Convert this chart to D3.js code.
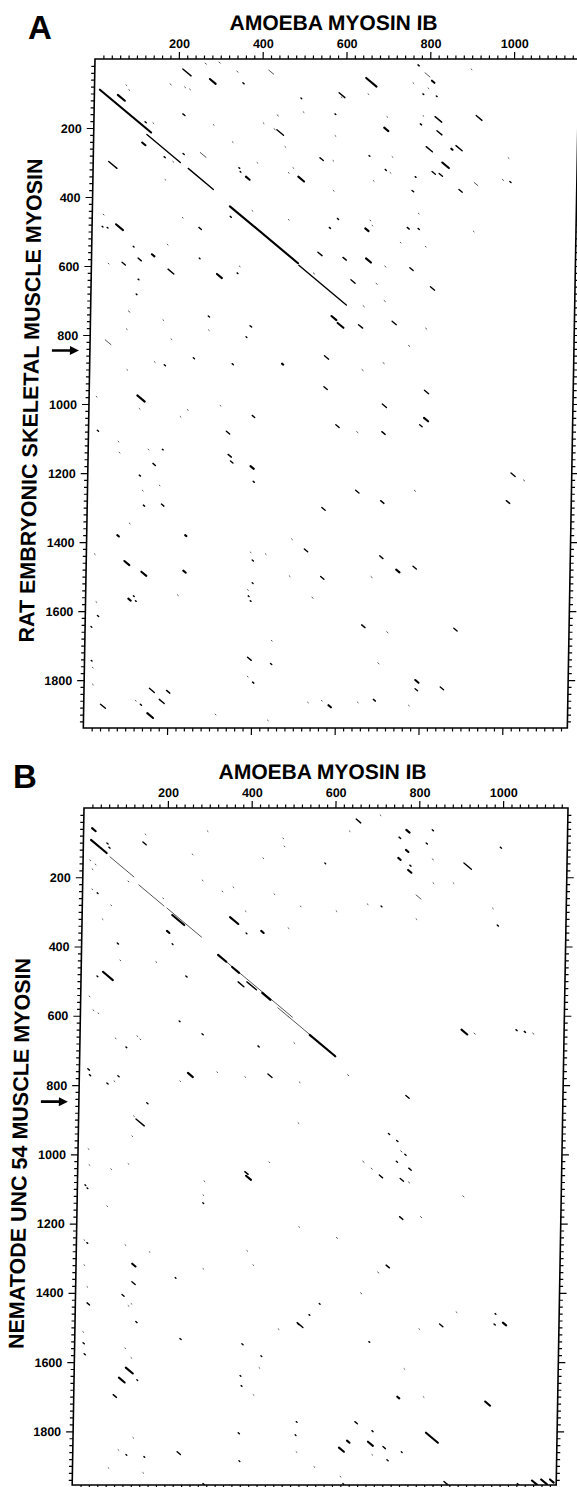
<!DOCTYPE html>
<html>
<head>
<meta charset="utf-8">
<script src="https://cdn.jsdelivr.net/npm/d3@7"></script>
<style>
  body { margin: 0; background: #fff; }
  svg text { font-family: "Liberation Sans", Arial, Helvetica, sans-serif; font-weight: bold; fill: #000; }
</style>
</head>
<body>
<div id="chart"></div>
<script>
// sequence lengths (residues) and tick labels
var amoebaLen = 1155;
var ratLen = 1939;
var nematodeLen = 1955;
var xTicks = [200, 400, 600, 800, 1000];
var yTicks = [200, 400, 600, 800, 1000, 1200, 1400, 1600, 1800];
var xTitle = "AMOEBA MYOSIN IB";
var yTitleA = "RAT EMBRYONIC SKELETAL MUSCLE MYOSIN";
var yTitleB = "NEMATODE UNC 54 MUSCLE MYOSIN";
var arrowA = 845;
var arrowB = 848;

// matches: [amoeba residue, myosin residue, run length, weight]
var segA = [
  [13,89,124,3],[127,219,81,2],[227,317,61,2],[328,427,165,3],[495,598,115,2],
  [210,29,20,2],[263,12,3,1],[296,9,3,1],[275,58,14,3],[339,35,3,1],[354,69,3,2],[415,32,12,1],
  [75,75,2,1],[82,89,2,1],[56,104,17,3],[180,72,3,1],[215,81,2,1],[227,87,2,1],
  [212,159,5,2],[122,182,3,2],[141,185,2,1],[116,242,8,3],[169,283,3,2],[214,274,3,2],[255,271,14,1],
  [190,297,2,1],[37,297,20,2],[172,349,2,1],[348,315,2,2],[351,326,2,2],[365,341,9,3],[391,300,2,1],
  [437,162,3,1],[430,202,3,1],[437,205,16,2],[404,185,2,1],[457,254,2,1],[466,329,2,1],[477,315,2,1],
  [331,240,2,1],[285,190,2,1],[381,439,2,1],[329,456,3,2],[255,488,6,2],[57,479,17,3],[24,485,2,2],
  [36,488,2,2],[215,459,2,1],[99,543,2,2],[26,450,2,1],[180,537,2,1],[468,465,2,1],
  [771,17,3,2],[788,40,12,1],[805,63,6,3],[898,29,2,1],[648,55,25,3],[760,69,2,1],[796,84,2,1],
  [784,101,2,2],[816,107,2,2],[584,98,14,2],[589,110,2,1],[493,113,2,2],[653,101,2,1],[499,153,2,1],
  [575,159,2,2],[699,167,2,1],[785,164,2,1],[814,167,16,2],[912,164,14,2],[779,188,3,2],[819,208,12,2],
  [693,199,10,3],[576,222,2,1],[794,254,15,2],[854,260,3,3],[865,251,15,2],[990,286,2,1],[541,286,8,2],
  [572,294,2,1],[658,280,2,2],[713,283,2,1],[833,300,16,3],[490,341,14,3],[697,320,3,2],[709,329,2,1],
  [809,326,8,2],[826,332,8,2],[769,341,2,2],[669,352,2,1],[910,358,9,1],[977,349,3,1],[995,355,3,2],
  [574,381,2,1],[762,381,4,2],[874,378,8,2],[585,462,3,2],[566,488,3,2],[652,491,8,3],[663,467,2,1],
  [668,482,2,1],[752,488,5,2],[778,491,3,2],[778,447,2,1],[910,499,2,1],[736,531,2,1],[796,543,2,1],
  [40,592,2,1],[73,589,8,2],[111,577,8,2],[144,566,6,3],[183,609,14,2],[257,577,2,2],[300,623,12,3],
  [353,600,2,1],[348,620,2,2],[112,638,2,2],[108,681,2,2],[90,730,4,1],[173,756,2,1],[281,745,3,2],
  [86,782,2,1],[282,785,2,1],[381,773,4,2],[372,805,2,2],[36,814,14,1],[193,811,2,1],[247,866,3,2],
  [89,900,2,1],[154,877,2,1],[178,886,3,2],[340,883,3,2],[459,883,3,3],[17,978,2,1],[115,975,18,3],
  [120,1013,2,1],[235,1016,2,1],[218,1036,2,1],[313,1004,2,1],[390,1033,6,2],[21,1076,3,2],[329,1079,8,2],
  [71,1108,2,1],[74,1140,2,1],[143,1131,2,1],[177,1131,2,2],[155,1172,6,2],[334,1146,8,2],[340,1165,6,2],
  [388,1180,8,3],[395,1224,3,2],[123,1206,3,2],[131,1250,2,1],[171,1235,2,1],[134,1293,3,2],[177,1290,6,2],
  [101,1345,2,1],[73,1380,4,3],[235,1380,3,3],[489,1391,2,1],[19,1434,2,1],[91,1455,12,3],[132,1486,12,3],
  [232,1483,6,3],[391,1429,2,1],[396,1452,3,2],[427,1434,2,1],[485,1498,2,1],[102,1564,6,3],[114,1556,2,2],
  [119,1570,2,2],[219,1553,2,1],[397,1518,2,2],[386,1538,2,1],[388,1556,2,2],[393,1570,2,2],[25,1573,2,1],
  [29,1613,3,2],[14,1645,2,2],[445,1685,2,1],[389,1734,9,2],[444,1752,3,2],[16,1743,2,2],[19,1763,2,1],
  [20,1812,2,1],[389,1789,2,1],[402,1806,3,2],[156,1824,12,2],[197,1830,8,2],
  [40,1870,12,2],[123,1859,2,1],[135,1870,3,2],[180,1856,12,2],[152,1896,14,3],[314,1899,2,1],[439,1916,2,1],
  [584,1873,6,3],[534,1864,2,1],[567,1859,2,1],[653,1864,2,1],[691,1856,5,2],[775,1873,2,1],
  [540,560,10,2],[600,575,8,2],[655,578,12,3],[700,600,3,1],[760,605,8,2],[530,620,3,1],[620,640,10,2],
  [680,650,3,1],[810,660,10,2],[700,700,3,1],[650,715,3,1],[575,745,12,3],[590,765,14,3],[640,770,10,2],
  [720,760,10,2],[800,780,3,1],[760,830,3,1],[560,860,10,2],[700,880,3,1],[650,900,3,1],[560,950,8,2],
  [700,1000,10,2],[800,960,10,2],[590,1060,8,2],[640,1080,3,1],[700,1080,8,2],[800,1040,10,3],[790,1060,6,2],
  [1010,1200,10,2],[1040,1220,3,1],[1000,1280,8,2],[560,1300,8,2],[640,1250,8,2],[700,1280,8,2],[780,1250,3,1],
  [520,1420,8,2],[700,1440,8,2],[740,1480,8,3],[560,1500,8,2],[680,1500,3,1],[780,1470,8,2],[540,1560,3,1],
  [660,1640,8,2],[720,1660,3,1],[880,1650,8,2],[700,1750,3,1],[790,1800,8,3],[790,1825,6,2],[850,1820,8,2]
];

var segB = [
  [20,58,9,3],[18,92,38,3],[56,101,3,2],[61,113,3,2],[64,141,58,1],[142,98,8,2],[147,75,2,1],
  [16,150,2,1],[29,162,2,1],[22,176,2,1],[108,211,2,1],[134,222,61,1],[202,289,84,1],[215,309,29,3],
  [285,208,2,1],[22,234,2,1],[35,245,2,2],[68,280,2,1],[48,320,2,1],[192,260,2,1],[203,355,6,3],
  [85,390,3,2],[216,392,2,2],[295,66,2,1],[260,133,2,1],[333,240,2,1],[359,228,2,1],[353,315,20,3],
  [389,297,2,1],[392,361,2,2],[428,355,6,3],[429,144,2,1],[457,248,2,1],[476,87,2,1],[479,110,2,1],
  [650,32,11,2],[707,20,2,1],[634,66,2,1],[770,63,8,3],[832,63,3,2],[753,84,4,2],[818,101,3,2],
  [995,113,3,2],[770,121,6,3],[752,144,6,3],[780,165,3,2],[776,179,8,3],[833,147,3,1],[909,159,18,2],
  [577,159,2,2],[836,216,2,1],[884,216,2,1],[796,251,12,1],[713,283,2,2],[797,320,2,1],[991,338,3,2],
  [520,283,2,1],[606,297,2,1],[680,277,2,1],[979,289,2,1],[492,346,2,1],
  [326,424,180,1],[326,424,20,3],[360,459,17,3],[396,502,23,2],[433,534,20,3],[471,577,26,1],
  [497,603,51,1],[548,655,62,3],
  [92,439,2,1],[178,444,2,1],[375,502,14,2],[38,485,2,2],[52,473,24,3],[250,485,3,2],[20,543,2,1],
  [30,583,2,1],[42,592,2,1],[236,615,2,2],[291,652,3,2],[136,658,2,1],[143,667,2,1],[84,664,2,1],
  [110,690,2,2],[425,687,3,2],[511,678,2,1],[20,753,4,2],[24,770,3,2],[66,794,3,2],[83,788,2,1],
  [92,773,3,2],[240,788,2,1],[259,765,12,3],[328,762,2,1],[395,776,2,1],[450,768,10,2],[525,791,2,1],
  [162,851,3,2],[137,898,20,2],[131,889,2,1],[128,947,2,1],[524,909,2,1],[24,984,2,1],[27,1030,2,1],
  [120,1027,2,1],[79,1042,2,1],[456,1022,2,1],[399,1050,8,2],[402,1062,12,3],[302,1077,2,1],[18,1088,2,2],
  [23,1097,2,2],[300,1117,2,1],[300,1140,2,2],[71,1149,2,1],[530,1209,2,1],[18,1247,2,1],[25,1255,2,2],
  [116,1261,2,1],[174,1281,2,1],[407,1278,2,1],[134,1316,8,3],[422,1319,2,1],[19,1319,2,1],[134,1368,8,2],
  [237,1356,2,2],[303,1330,2,1],[27,1382,2,1],[111,1405,5,2],
  [28,1429,6,2],[126,1437,2,1],[133,1431,2,1],[145,1483,3,2],[19,1512,2,1],[251,1532,3,2],[20,1544,3,2],
  [399,1547,3,2],[485,1504,2,1],[532,1489,3,2],[120,1559,2,1],[23,1576,3,2],[445,1582,2,2],[135,1587,2,1],
  [123,1616,17,3],[441,1616,2,1],[107,1645,14,3],[150,1651,2,2],[396,1639,2,2],[399,1668,2,2],[94,1694,8,2],
  [428,1694,2,1],[532,1772,2,2],[394,1804,3,2],[530,1810,2,2],[143,1818,2,1],[108,1853,2,1],[127,1867,2,2],
  [170,1873,2,2],[249,1859,8,2],[533,1859,2,1],[397,1885,2,2],[85,1905,2,1],[168,1919,2,1],[312,1951,3,2],
  [582,1431,2,2],[558,1463,2,2],[530,1486,14,2],[909,1455,2,1],[1002,1460,2,2],[1021,1486,8,3],[821,1504,2,1],
  [702,1541,2,2],[787,1619,2,1],[772,1700,5,3],[834,1700,2,1],[982,1714,12,3],[672,1772,6,2],[713,1798,3,2],
  [842,1804,29,3],[654,1827,6,3],[704,1830,12,3],[740,1844,6,2],[635,1847,12,3],[784,1859,2,2],[714,1867,2,1],
  [750,1882,3,2],[576,1902,2,1],[639,1930,2,1],[646,1951,2,2],
  [887,1945,9,2],[1062,1951,3,2],[1097,1942,12,3],[1119,1939,14,3],[1140,1939,9,3],
  [910,640,14,3],[940,650,3,1],[1040,640,3,2],[1060,645,3,2],[1080,650,3,1],[640,770,3,1],[780,830,8,2],
  [740,940,3,2],[760,960,3,2],[770,990,3,1],[680,1020,3,1],[700,1040,3,1],[720,1060,8,2],[760,1020,3,2],
  [780,1000,3,2],[790,1040,6,2],[770,1070,8,2],[790,1080,3,1],[920,1120,3,1],[770,1180,8,2],[820,1180,3,1],
  [620,1240,3,1],[740,1320,8,2],[720,1340,3,1],[680,1400,3,1],[870,1490,8,2],[1000,1490,3,2]
];

var svgWidth = 577, svgHeight = 1487;
var plotWidth = 484;

var svg = d3.select("#chart").append("svg")
  .attr("width", svgWidth)
  .attr("height", svgHeight);

var panels = [
  { letter: "A", lx: 28, ly: 39, left: 95, top: 59, height: 669, yMax: ratLen, yTitle: yTitleA, segs: segA, arrow: arrowA },
  { letter: "B", lx: 13, ly: 788, left: 84, top: 808, height: 677, yMax: nematodeLen, yTitle: yTitleB, segs: segB, arrow: arrowB }
];

panels.forEach(function(p, i) {
  svg.append("text")
    .attr("x", p.lx).attr("y", p.ly)
    .style("font-size", "33px")
    .text(p.letter);

  // the scanned figure leans a little, so each panel is sheared by about a degree
  var g = svg.append("g")
    .attr("transform", `translate(${p.left}, ${p.top}) skewX(-1)`);

  var xScale = d3.scaleLinear().domain([0, amoebaLen]).range([0, plotWidth]);
  var yScale = d3.scaleLinear().domain([0, p.yMax]).range([0, p.height]);

  var xMinor = d3.range(20, amoebaLen, 20).filter(v => v % 200 != 0);
  var yMinor = d3.range(20, p.yMax, 20).filter(v => v % 200 != 0);
  var xMajor = d3.range(200, amoebaLen, 200);
  var yMajor = d3.range(200, p.yMax, 200);
  var fmt = d3.format("d");

  // ticks on all four sides, labels on top and left only
  var axes = [
    [d3.axisTop(xScale).tickValues(xMinor).tickSize(3.5).tickFormat(""), 0, 0],
    [d3.axisTop(xScale).tickValues(xTicks).tickSize(7).tickPadding(4).tickFormat(fmt), 0, 0],
    [d3.axisBottom(xScale).tickValues(xMinor).tickSize(3.5).tickFormat(""), 0, p.height],
    [d3.axisBottom(xScale).tickValues(xMajor).tickSize(7).tickFormat(""), 0, p.height],
    [d3.axisLeft(yScale).tickValues(yMinor).tickSize(3.5).tickFormat(""), 0, 0],
    [d3.axisLeft(yScale).tickValues(yTicks).tickSize(7).tickPadding(5).tickFormat(fmt), 0, 0],
    [d3.axisRight(yScale).tickValues(yMinor).tickSize(3.5).tickFormat(""), plotWidth, 0],
    [d3.axisRight(yScale).tickValues(yMajor).tickSize(7).tickFormat(""), plotWidth, 0]
  ];
  axes.forEach(function(a) {
    var ag = g.append("g")
      .attr("transform", `translate(${a[1]}, ${a[2]})`)
      .call(a[0]);
    ag.select(".domain").remove();
    ag.selectAll("line").attr("stroke", "#000").attr("stroke-width", 1.2);
    ag.selectAll("text").style("font-size", "12.5px").attr("fill", "#000");
  });

  g.append("rect")
    .attr("width", plotWidth).attr("height", p.height)
    .attr("fill", "none").attr("stroke", "#000").attr("stroke-width", 1.6);

  g.append("clipPath").attr("id", "clip" + i)
    .append("rect").attr("width", plotWidth).attr("height", p.height);

  var widths = [0, 0.9, 1.4, 2.1];
  g.append("g").attr("clip-path", `url(#clip${i})`)
    .selectAll("line")
    .data(p.segs)
    .enter()
    .append("line")
      .attr("x1", d => xScale(d[0]))
      .attr("y1", d => yScale(d[1]))
      .attr("x2", d => xScale(d[0] + d[2]))
      .attr("y2", d => yScale(d[1] + d[2]))
      .attr("stroke", d => d[3] == 1 ? "#444" : "#000")
      .attr("stroke-width", d => widths[d[3]])
      .attr("stroke-linecap", "round");

  // title over the top axis
  g.append("text")
    .attr("x", plotWidth / 2 - 4)
    .attr("y", -29)
    .style("font-size", "21px")
    .style("text-anchor", "middle")
    .text(xTitle);

  // rotated title on the left
  g.append("text")
    .attr("transform", `translate(-51, ${p.height / 2 + 7}) rotate(-90)`)
    .style("font-size", "21.5px")
    .style("text-anchor", "middle")
    .text(p.yTitle);

  // arrow marking a position on the myosin axis
  var ay = yScale(p.arrow);
  g.append("line")
    .attr("x1", -38).attr("y1", ay)
    .attr("x2", -18).attr("y2", ay)
    .attr("stroke", "#000").attr("stroke-width", 2.6);
  g.append("path")
    .attr("d", `M-20,${ay - 4.5} L-11,${ay} L-20,${ay + 4.5} Z`)
    .attr("fill", "#000");
});
</script>
</body>
</html>
